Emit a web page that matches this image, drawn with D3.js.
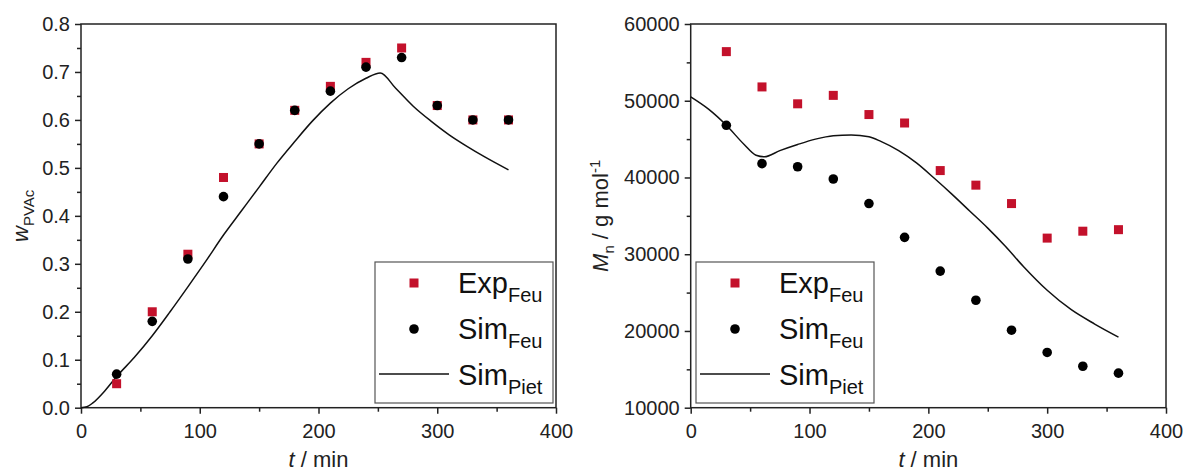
<!DOCTYPE html>
<html>
<head>
<meta charset="utf-8">
<script src="https://cdn.jsdelivr.net/npm/d3@7"></script>
<style>
  body { margin: 0; background: #fff; }
  svg { display: block; font-family: "Liberation Sans", Arial, sans-serif; }
</style>
</head>
<body>
<svg id="chart" width="1186" height="473"></svg>
<script>
// sample times (min)
const times = [30, 60, 90, 120, 150, 180, 210, 240, 270, 300, 330, 360];

// left panel: mass fraction PVAc
const wExpFeu = [0.05, 0.20, 0.32, 0.48, 0.55, 0.62, 0.67, 0.72, 0.75, 0.63, 0.60, 0.60];
const wSimFeu = [0.07, 0.18, 0.31, 0.44, 0.55, 0.62, 0.66, 0.71, 0.73, 0.63, 0.60, 0.60];
const wPietT = [0, 5, 10, 20, 30, 45, 60, 75, 90, 105, 120, 135, 150, 165, 180, 195, 210, 225, 240, 252, 265, 280, 295, 310, 325, 340, 360];
const wPietV = [0, 0.002, 0.01, 0.035, 0.065, 0.105, 0.15, 0.2, 0.252, 0.305, 0.36, 0.41, 0.46, 0.51, 0.555, 0.598, 0.635, 0.665, 0.687, 0.698, 0.666, 0.628, 0.597, 0.569, 0.545, 0.523, 0.496];

// right panel: Mn
const mnExpFeu = [56400, 51800, 49600, 50700, 48200, 47100, 40900, 39000, 36600, 32100, 33000, 33200];
const mnSimFeu = [46800, 41800, 41400, 39800, 36600, 32200, 27800, 24000, 20100, 17200, 15400, 14500];
const mnPietT = [0, 15, 30, 45, 55, 62, 75, 90, 105, 120, 135, 150, 160, 175, 190, 205, 220, 235, 250, 265, 280, 300, 320, 340, 360];
const mnPietV = [50500, 48900, 46800, 44300, 42900, 42700, 43500, 44300, 45000, 45450, 45550, 45300, 44700, 43500, 41900, 39900, 37800, 35600, 33400, 31000, 28400, 25300, 22800, 20900, 19200];

const xTicks = [0, 100, 200, 300, 400];
const wTicks = [0, 0.1, 0.2, 0.3, 0.4, 0.5, 0.6, 0.7, 0.8];
const mnTicks = [10000, 20000, 30000, 40000, 50000, 60000];

const red = '#c3112b';
const svg = d3.select('#chart');

function panel(opt) {
    const x = d3.scaleLinear().domain([0, 400]).range([opt.left, opt.right]);
    const y = d3.scaleLinear().domain(opt.yDomain).range([opt.bottom, opt.top]);
    const g = svg.append('g');

    // minor ticks
    g.append('g')
        .attr('transform', `translate(0,${opt.bottom})`)
        .call(d3.axisBottom(x).tickValues([50, 150, 250, 350]).tickSize(4).tickFormat(''))
        .call(a => a.select('.domain').remove());
    g.append('g')
        .attr('transform', `translate(${opt.left},0)`)
        .call(d3.axisLeft(y).tickValues(opt.yMinor).tickSize(4).tickFormat(''))
        .call(a => a.select('.domain').remove());

    // major ticks
    g.append('g')
        .attr('transform', `translate(0,${opt.bottom})`)
        .call(d3.axisBottom(x).tickValues(xTicks).tickSize(6).tickSizeOuter(0).tickPadding(10))
        .call(a => a.select('.domain').remove())
        .selectAll('text').attr('font-size', 20).attr('fill', '#222').attr('font-family', null);
    g.append('g')
        .attr('transform', `translate(${opt.left},0)`)
        .call(d3.axisLeft(y).tickValues(opt.yTicks).tickSize(6).tickSizeOuter(0).tickPadding(5).tickFormat(opt.fmt))
        .call(a => a.select('.domain').remove())
        .selectAll('text').attr('font-size', 20).attr('fill', '#222').attr('font-family', null);

    g.selectAll('.tick line').attr('stroke', '#222').attr('stroke-width', 1.5);

    // frame
    g.append('rect')
        .attr('x', opt.left).attr('y', opt.top)
        .attr('width', opt.right - opt.left).attr('height', opt.bottom - opt.top)
        .attr('fill', 'none').attr('stroke', '#222').attr('stroke-width', 1.5);

    // line
    const line = d3.line().x(d => x(d[0])).y(d => y(d[1])).curve(d3.curveMonotoneX);
    g.append('path')
        .datum(d3.zip(opt.lineT, opt.lineV))
        .attr('d', line)
        .attr('fill', 'none').attr('stroke', '#111').attr('stroke-width', 1.5);

    // exp squares
    g.selectAll('.sq').data(d3.zip(times, opt.exp)).enter().append('rect')
        .attr('x', d => x(d[0]) - 4.5).attr('y', d => y(d[1]) - 4.5)
        .attr('width', 9).attr('height', 9).attr('fill', red);

    // sim circles
    g.selectAll('.ci').data(d3.zip(times, opt.sim)).enter().append('circle')
        .attr('cx', d => x(d[0])).attr('cy', d => y(d[1])).attr('r', 4.8).attr('fill', '#000');

    // x label
    const xl = g.append('text')
        .attr('x', (opt.left + opt.right) / 2).attr('y', 467)
        .attr('text-anchor', 'middle').attr('font-size', 22).attr('fill', '#222');
    xl.append('tspan').attr('font-style', 'italic').text('t');
    xl.append('tspan').text(' / min');

    // y label
    const yl = g.append('text')
        .attr('transform', `translate(${opt.yLabelX},${(opt.top + opt.bottom) / 2}) rotate(-90)`)
        .attr('text-anchor', 'middle').attr('font-size', 22).attr('fill', '#222');
    opt.yLabel(yl);

    // legend
    const lx = opt.legX;
    g.append('rect')
        .attr('x', lx).attr('y', 262).attr('width', 178).attr('height', 141)
        .attr('fill', '#fff').attr('stroke', '#555').attr('stroke-width', 1.2);
    g.append('rect').attr('x', lx + 39 - 4.5).attr('y', 283 - 4.5).attr('width', 9).attr('height', 9).attr('fill', red);
    g.append('circle').attr('cx', lx + 39).attr('cy', 329).attr('r', 4.8).attr('fill', '#000');
    g.append('line').attr('x1', lx + 4).attr('x2', lx + 74).attr('y1', 374).attr('y2', 374)
        .attr('stroke', '#111').attr('stroke-width', 1.5);
    const entries = [['Exp', 'Feu', 293], ['Sim', 'Feu', 339], ['Sim', 'Piet', 385]];
    entries.forEach(e => {
        const t = g.append('text').attr('x', lx + 83).attr('y', e[2]).attr('font-size', 29).attr('fill', '#111');
        t.append('tspan').text(e[0]);
        t.append('tspan').attr('font-size', 20).attr('dy', 9).text(e[1]);
    });
}

panel({
    left: 81, right: 556, top: 24, bottom: 407.7,
    yDomain: [0, 0.8], yTicks: wTicks, yMinor: d3.range(0.05, 0.8, 0.1),
    fmt: d3.format('.1f'),
    exp: wExpFeu, sim: wSimFeu, lineT: wPietT, lineV: wPietV,
    yLabelX: 28, legX: 375,
    yLabel: t => {
        t.append('tspan').attr('font-style', 'italic').text('w');
        t.append('tspan').attr('font-size', 15).attr('dy', 6).text('PVAc');
    }
});

panel({
    left: 690.7, right: 1166, top: 24, bottom: 407.7,
    yDomain: [10000, 60000], yTicks: mnTicks, yMinor: d3.range(15000, 60000, 10000),
    fmt: d3.format('d'),
    exp: mnExpFeu, sim: mnSimFeu, lineT: mnPietT, lineV: mnPietV,
    yLabelX: 608, legX: 696,
    yLabel: t => {
        t.append('tspan').attr('font-style', 'italic').text('M');
        t.append('tspan').attr('font-size', 15).attr('dy', 6).text('n');
        t.append('tspan').attr('dy', -6).text(' / g mol');
        t.append('tspan').attr('font-size', 15).attr('dy', -8).text('-1');
    }
});
</script>
</body>
</html>
